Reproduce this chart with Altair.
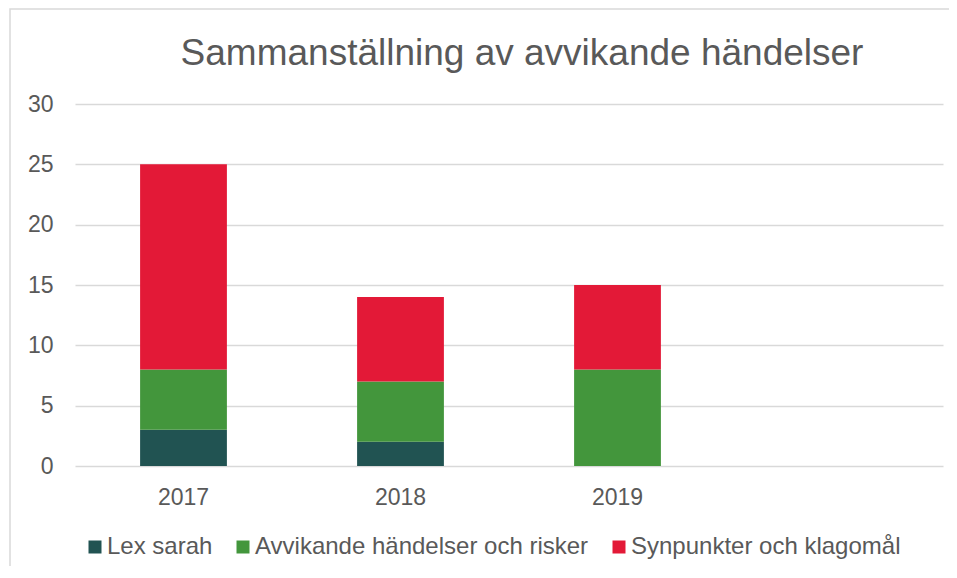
import altair as alt
import pandas as pd

years = ["2017", "2018", "2019", " "]
series = ["Lex sarah", "Avvikande händelser och risker", "Synpunkter och klagomål"]
lex_sarah = [3, 2, 0]
avvikande = [5, 5, 8]
synpunkter = [17, 7, 7]
colors = ["#215352", "#43963C", "#E31937"]
title_text = "Sammanställning av avvikande händelser"

rows = []
for i, y in enumerate(years[:3]):
    for k, (s, vals) in enumerate(zip(series, [lex_sarah, avvikande, synpunkter])):
        rows.append({"year": y, "series": s, "value": vals[i], "order": k})
df = pd.DataFrame(rows)

FONT = "Liberation Sans"
GREY = "#595959"

border = alt.Chart(pd.DataFrame({"a": [0]})).mark_rect(
    fill=None, stroke="#d9d9d9", strokeWidth=1.5, clip=False
).encode(
    x=alt.value(-65), x2=alt.value(2000), y=alt.value(-95), y2=alt.value(2000)
)

title = alt.Chart(pd.DataFrame({"t": [title_text]})).mark_text(
    font=FONT, fontSize=37, color=GREY, align="center", baseline="alphabetic"
).encode(text="t:N", x=alt.value(447), y=alt.value(-39))

bars = alt.Chart(df).mark_bar().encode(
    x=alt.X("year:N", scale=alt.Scale(domain=years, paddingInner=0.6, paddingOuter=0.3),
            axis=alt.Axis(title=None, labelAngle=0, domain=False, ticks=False,
                          labelPadding=20, labelFontSize=23, labelColor=GREY, labelFont=FONT)),
    y=alt.Y("value:Q", stack="zero", scale=alt.Scale(domain=[0, 30]),
            axis=alt.Axis(title=None, values=[0, 5, 10, 15, 20, 25, 30], domain=False, ticks=False,
                          labelPadding=22, labelFontSize=23, labelColor=GREY, labelFont=FONT,
                          gridColor="#d9d9d9", gridWidth=1.5)),
    color=alt.Color("series:N", scale=alt.Scale(domain=series, range=colors),
                    legend=alt.Legend(title=None, orient="none", direction="horizontal",
                                      legendX=8, legendY=431, symbolType="square",
                                      symbolSize=169, symbolStrokeWidth=0, labelFontSize=24,
                                      labelColor=GREY, labelFont=FONT, labelOffset=0,
                                      labelLimit=0, columnPadding=18)),
    order=alt.Order("order:Q", sort="ascending"),
)

chart = (border + title + bars).properties(
    width=868, height=362,
    autosize=alt.AutoSizeParams(type="none"),
    padding={"left": 67, "top": 96, "right": 6, "bottom": 100},
).configure_view(stroke=None)

chart.save("out.html", embed_options={"renderer": "svg", "actions": False})
